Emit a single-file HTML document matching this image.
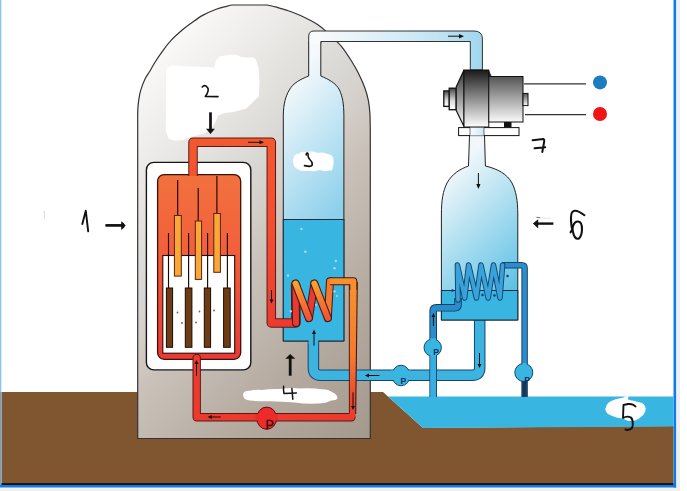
<!DOCTYPE html>
<html><head><meta charset="utf-8"><title>PWR diagram</title>
<style>
html,body{margin:0;padding:0;background:#fff;width:687px;height:491px;overflow:hidden;font-family:"Liberation Sans",sans-serif;}
svg{display:block;position:absolute;left:0;top:0;}
</style></head><body>
<svg width="687" height="491" viewBox="0 0 687 491">
<defs>
  <linearGradient id="gCont" gradientUnits="userSpaceOnUse" x1="104.5" y1="110.5" x2="416.5" y2="397.5">
    <stop offset="0" stop-color="#faf9f8"/>
    <stop offset="0.12" stop-color="#efeeec"/>
    <stop offset="0.36" stop-color="#d8d6d2"/>
    <stop offset="0.42" stop-color="#d5cfca"/>
    <stop offset="0.51" stop-color="#cac2ba"/>
    <stop offset="0.73" stop-color="#b5aba1"/>
    <stop offset="0.965" stop-color="#a59a8e"/>
    <stop offset="1" stop-color="#a3978b"/>
  </linearGradient>
  <linearGradient id="gBottle" gradientUnits="userSpaceOnUse" x1="273.5" y1="98.8" x2="365" y2="182.5">
    <stop offset="0" stop-color="#f5f9fc"/>
    <stop offset="1" stop-color="#8cd0eb"/>
  </linearGradient>
  <linearGradient id="gSteam" gradientUnits="userSpaceOnUse" x1="318" y1="0" x2="482" y2="0">
    <stop offset="0" stop-color="#f8fafb"/>
    <stop offset="0.49" stop-color="#d5ecf7"/>
    <stop offset="0.76" stop-color="#bee2f2"/>
    <stop offset="1" stop-color="#9fd7ee"/>
  </linearGradient>
  <linearGradient id="gCore" gradientUnits="userSpaceOnUse" x1="0" y1="175" x2="0" y2="360">
    <stop offset="0" stop-color="#f2713e"/>
    <stop offset="0.4" stop-color="#f2603b"/>
    <stop offset="1" stop-color="#ea3836"/>
  </linearGradient>
  <linearGradient id="gDark" x1="0" y1="0" x2="0" y2="1">
    <stop offset="0" stop-color="#1a1a1a"/>
    <stop offset="1" stop-color="#ffffff"/>
  </linearGradient>
  <linearGradient id="gGen" x1="0" y1="0" x2="0" y2="1">
    <stop offset="0" stop-color="#555"/>
    <stop offset="1" stop-color="#fafafa"/>
  </linearGradient>
  <linearGradient id="gCone" x1="0" y1="0" x2="0" y2="1">
    <stop offset="0" stop-color="#333"/>
    <stop offset="1" stop-color="#fff"/>
  </linearGradient>
  <linearGradient id="gCap" x1="0" y1="0" x2="0" y2="1">
    <stop offset="0" stop-color="#444"/>
    <stop offset="0.6" stop-color="#ddd"/>
    <stop offset="1" stop-color="#fff"/>
  </linearGradient>
  <linearGradient id="gCond" gradientUnits="userSpaceOnUse" x1="431.6" y1="191.1" x2="519.4" y2="281.7">
    <stop offset="0" stop-color="#f0f7fa"/>
    <stop offset="1" stop-color="#5fc2e5"/>
  </linearGradient>
  <linearGradient id="gHot" gradientUnits="userSpaceOnUse" x1="0" y1="140" x2="0" y2="325">
    <stop offset="0" stop-color="#f4582f"/>
    <stop offset="0.6" stop-color="#f24a32"/>
    <stop offset="1" stop-color="#ec3a30"/>
  </linearGradient>
  <linearGradient id="gWarm" gradientUnits="userSpaceOnUse" x1="0" y1="280" x2="0" y2="420">
    <stop offset="0" stop-color="#f7902c"/>
    <stop offset="0.6" stop-color="#f2702c"/>
    <stop offset="1" stop-color="#ec3a2e"/>
  </linearGradient>
  <linearGradient id="gCoilF" x1="0" y1="0" x2="0" y2="1">
    <stop offset="0" stop-color="#f8a030"/>
    <stop offset="1" stop-color="#ef5535"/>
  </linearGradient>
  <linearGradient id="gSteamV" x1="0" y1="0" x2="1" y2="0">
    <stop offset="0" stop-color="#fafdff"/>
    <stop offset="1" stop-color="#cfe8f6"/>
  </linearGradient>
  <linearGradient id="gWarmV" x1="0" y1="0" x2="0" y2="1">
    <stop offset="0" stop-color="#f7902c"/>
    <stop offset="0.55" stop-color="#f37a2c"/>
    <stop offset="0.85" stop-color="#ee4a2e"/>
    <stop offset="1" stop-color="#ec3a2e"/>
  </linearGradient>
  <linearGradient id="gWarmV2" gradientUnits="userSpaceOnUse" x1="0" y1="282" x2="0" y2="417">
    <stop offset="0" stop-color="#f7922e"/>
    <stop offset="0.55" stop-color="#f47a2c"/>
    <stop offset="0.85" stop-color="#ee4a2e"/>
    <stop offset="1" stop-color="#ec3a2e"/>
  </linearGradient>
</defs>

<!-- frame borders -->

<rect x="676" y="0" width="4" height="491" fill="#efefef"/>
<rect x="0" y="487.5" width="680" height="3.5" fill="#f0f0f0"/>
<rect x="0" y="487.5" width="676" height="1.2" fill="#f7f5f3"/>
<rect x="673.5" y="0" width="2.6" height="487.5" fill="#0b7cef"/>
<rect x="0" y="484.9" width="676.1" height="2.6" fill="#0b7cef"/>

<!-- ground -->
<polygon points="1.5,392 383,392 423,428 673.5,426 673.5,484.6 1.5,484.6" fill="#7f562f"/>
<rect x="1.2" y="483.3" width="672.3" height="1.6" fill="#000"/>
<rect x="0" y="0" width="1.3" height="392" fill="#8cc2ef"/>
<rect x="0" y="392" width="1.3" height="93" fill="#739fc4"/>
<!-- sea -->
<polygon points="388,396.5 673.5,396.5 673.5,426.5 423,428" fill="#38b5e1"/>

<!-- containment -->
<path d="M137.7,438.5 L137.7,125 C137.7,122.5 137.6,114.1 137.8,110.0 C138.0,105.9 138.2,103.6 138.7,100.4 C139.2,97.2 139.5,94.2 140.6,90.6 C141.7,87.0 143.5,82.2 145.0,79.0 C146.5,75.8 148.2,74.0 149.8,71.3 C151.4,68.6 152.7,66.0 154.7,62.8 C156.7,59.5 159.3,55.5 162.0,51.8 C164.7,48.1 167.1,44.5 170.6,40.8 C174.1,37.1 179.4,32.4 182.8,29.5 C186.2,26.6 187.6,25.6 191.0,23.2 C194.4,20.8 198.9,17.4 203.1,15.1 C207.3,12.8 212.3,10.7 216.2,9.2 C220.1,7.7 224.1,7.0 226.7,6.3 C229.3,5.6 231.0,5.2 231.9,5.0 L267.3,5 C268.9,5.4 273.1,6.2 276.6,7.2 C280.1,8.2 284.4,9.4 288.3,10.7 C292.2,12.0 296.0,13.5 299.9,15.2 C303.8,16.9 308.5,19.3 311.6,21.0 C314.7,22.7 316.5,23.8 318.6,25.3 C320.7,26.8 322.0,27.8 324.4,29.9 C326.8,32.0 330.1,35.0 333.0,37.8 C335.9,40.6 338.8,43.1 341.8,46.8 C344.8,50.5 348.2,55.8 351.0,60.2 C353.8,64.6 356.0,68.4 358.3,73.0 C360.6,77.6 363.1,83.1 364.8,87.7 C366.5,92.3 367.5,96.3 368.4,100.6 C369.2,104.9 369.6,108.5 369.9,113.4 C370.2,118.3 370.2,127.2 370.3,130.0 L370.3,438.5 Z" fill="url(#gCont)" stroke="#333" stroke-width="1.2" stroke-linejoin="round"/>

<!-- white scribble blob behind label 2 -->
<path d="M166,72 Q166.5,66 172,65.5 L190,66.5 L205,67 L214.5,67.5 L216,60 L219,56.5 L226,55.5 L231,54.5 L237,55 L241,57 L247,57.5 L253,57.5 L256,59.5 L258.5,68 L259.5,80 L259,96 L252,103 L246,108.7 L233,112 L225,113 L218,115.5 L215,123 L210,130.5 L203.5,133.6 L190.6,137 L183,140 L175,140.8 L169,139 L165.8,131 Z" fill="#fff"/>

<!-- reactor outer white frame -->
<rect x="146.4" y="162.4" width="104.4" height="207.5" rx="7.5" fill="#fff" stroke="#151515" stroke-width="1.4"/>
<!-- core -->
<rect x="157.6" y="174.6" width="83.1" height="184.7" rx="6.5" fill="url(#gCore)" stroke="#3a1208" stroke-width="1.3"/>
<rect x="162.8" y="255.5" width="71.9" height="97.7" fill="#fff" stroke="#2a0a05" stroke-width="1.1"/>



<!-- feedwater pipe (SG outlet -> condenser) -->
<path d="M313.4,341 L313.4,368 Q313.4,375.2 320.6,375.2 L472.5,375.2 Q479.7,375.2 479.7,368 L479.7,319" fill="none" stroke="#16466e" stroke-width="11.5"/>
<path d="M313.4,340 L313.4,368 Q313.4,375.2 320.6,375.2 L472.5,375.2 Q479.7,375.2 479.7,368 L479.7,318" fill="none" stroke="#3cb4df" stroke-width="9.5"/>
<!-- cold leg loop -->
<path d="M351.4,417.2 L196.7,417.2 L196.7,358" fill="none" stroke="#5a1a12" stroke-width="8.4" stroke-linejoin="round" stroke-linecap="round"/>

<path d="M351.4,417.2 L196.7,417.2 L196.7,358" fill="none" stroke="#ec3a2e" stroke-width="6.4" stroke-linejoin="round" stroke-linecap="round"/>
<path d="M349.3,282 L357.3,282 L355.6,417 L349.4,417 Z" fill="url(#gWarmV2)"/>
<path d="M349.3,282 L349.4,413.2" stroke="#5a1a12" stroke-width="1" fill="none"/>
<path d="M357.3,282 L355.7,414" stroke="#4a1510" stroke-width="1.1" fill="none"/>

<!-- control rods -->
<g stroke="#1e0604" stroke-width="1.15">
  <line x1="177.7" y1="180" x2="177.7" y2="216"/>
  <line x1="198.2" y1="188" x2="198.2" y2="221"/>
  <line x1="216.9" y1="176" x2="216.9" y2="214"/>
  <line x1="168.5" y1="233" x2="168.5" y2="288"/>
  <line x1="188.6" y1="233" x2="188.6" y2="288"/>
  <line x1="207.6" y1="233" x2="207.6" y2="288"/>
  <line x1="227.4" y1="233" x2="227.4" y2="288"/>
</g>
<g fill="#f9a838" stroke="#5a2010" stroke-width="1">
  <rect x="174.4" y="215.5" width="6.9" height="60.6"/>
  <rect x="195.3" y="221" width="6.3" height="58.4"/>
  <rect x="213.8" y="213.5" width="6.6" height="58.8"/>
</g>
<!-- fuel rods -->
<g fill="#6e3c14" stroke="#1a0a04" stroke-width="1">
  <rect x="166.4" y="288" width="6.2" height="59.3"/>
  <rect x="185.3" y="288" width="6.6" height="59.3"/>
  <rect x="204.3" y="288" width="6.3" height="59.3"/>
  <rect x="223.6" y="288" width="6.6" height="59.3"/>
</g>
<g fill="#666">
  <circle cx="177.5" cy="312.5" r="0.9"/><circle cx="182" cy="323" r="0.9"/>
  <circle cx="199.5" cy="311.5" r="0.9"/><circle cx="196" cy="322.5" r="0.9"/>
  <circle cx="214" cy="310.5" r="0.9"/>
</g>

<!-- steam generator bottle -->
<path d="M308.7,42 L308.7,76 C301,79 293,83 289.3,90 C285.5,96.5 283.5,104 283.3,115 L283.3,341 L343.9,341 L343.9,115 C343.8,104 342.5,96.5 339.5,90 C336,83 328,79 320.8,76 L320.8,42 Z" fill="url(#gBottle)" stroke="#222" stroke-width="1"/>
<rect x="283.3" y="219.5" width="60.6" height="121.5" fill="#38b5e1" stroke="#1b2a3a" stroke-width="1"/>
<rect x="308.6" y="339" width="9.6" height="4.5" fill="#3cb4df"/>
<!-- hot leg loop -->
<path d="M193,176 L193,142.3 L271.3,142.3 L271.3,323 L296,323 L295.6,284" fill="none" stroke="#5a1a12" stroke-width="9.5" stroke-linejoin="round"/>
<path d="M193,176 L193,142.3 L271.3,142.3 L271.3,323 L296,323 L295.6,284" fill="none" stroke="url(#gHot)" stroke-width="7.5" stroke-linejoin="round"/>

<!-- SG coil -->
<g fill="none" stroke-linecap="round" stroke-linejoin="round">
  <g stroke="#4a1510" stroke-width="8">
    <path d="M296,323 L295.5,284"/><path d="M309,318 L314.3,284"/><path d="M327.8,318 L330,281.3"/>
  </g>
  <g stroke="#e43c32" stroke-width="6">
    <path d="M296,323 L295.5,284"/><path d="M309,318 L314.3,284"/>
  </g>
  <path d="M327.8,318 L330,281.3" stroke="#f07a30" stroke-width="6"/>
  <path d="M330,281.3 L353.3,281.3 L353.3,290" stroke="#4a1510" stroke-width="8" stroke-linecap="butt"/>
  <path d="M330,281.3 L353.3,281.3 L353.3,291" stroke="#f7902c" stroke-width="6" stroke-linecap="butt"/>
  <g stroke="#4a1510" stroke-width="8">
    <path d="M295.6,283.5 L308.8,318"/><path d="M314.3,283.5 L327.8,318"/>
  </g>
  <g stroke="url(#gCoilF)" stroke-width="6">
    <path d="M295.6,283.5 L308.8,318"/><path d="M314.3,283.5 L327.8,318"/>
  </g>
</g>
<!-- bubbles -->
<g fill="#9edcf7">
  <circle cx="301.4" cy="229" r="1.2"/><circle cx="305.3" cy="251.7" r="1.3"/><circle cx="335.8" cy="261" r="1.2"/>
  <circle cx="334.5" cy="268.3" r="1.2"/><circle cx="288" cy="275.5" r="1.2"/><circle cx="290.8" cy="311.3" r="1.2"/>
  <circle cx="334.5" cy="291.4" r="1.2"/><circle cx="337" cy="296" r="1"/><circle cx="316" cy="305" r="1"/>
</g>


<!-- steam pipe -->
<path d="M308.7,44 L308.7,36 Q308.7,31 314,31 L474,31 Q482.4,31 482.4,39 L482.4,70 L470.3,70 L470.3,41.5 L320.8,41.5 L320.8,44" fill="url(#gSteam)" stroke="#333" stroke-width="1"/>
<line x1="448" y1="36.2" x2="462" y2="36.2" stroke="#111" stroke-width="1"/>
<path d="M464,36.2 L459,34 L459,38.4 Z" fill="#111"/>


<!-- condenser -->
<path d="M469.5,135.5 L468.5,166 C460,169 452,174 447,183 C443,191 441.4,200 441.4,215 L441.4,320 L517.8,320 L517.8,215 C517.8,200 516,191 512,183 C507,174 498,169 485.4,166 L484.5,135.5 Z" fill="url(#gCond)" stroke="#222" stroke-width="1"/>
<rect x="441.4" y="290.5" width="76.4" height="29.5" fill="#38b5e1" stroke="#1b2a3a" stroke-width="1"/>
<line x1="478.4" y1="173" x2="478.4" y2="187" stroke="#111" stroke-width="1"/>
<path d="M478.4,189 L476.3,184 L480.5,184 Z" fill="#111"/>

<!-- cooling water intake -->
<g fill="none" stroke-linejoin="round">
  <path d="M433.2,397 L433.2,311 Q433.2,307.8 436.4,307.8 L454.8,307.8 Q458,307.8 458,304.6 L458,298" stroke="#0f3c66" stroke-width="7.6"/>
  <path d="M433.2,397 L433.2,311 Q433.2,307.8 436.4,307.8 L454.8,307.8 Q458,307.8 458,304.6 L458,298" stroke="#2a8cc8" stroke-width="5.8"/>
  <path d="M433.2,397 L433.2,350" stroke="#38aee0" stroke-width="5.8"/>
  <path d="M502,265.3 L521.6,265.3 Q524.6,265.3 524.6,268.3 L524.6,397" stroke="#16466e" stroke-width="6.5"/>
  <path d="M502,265.3 L521.6,265.3 Q524.6,265.3 524.6,268.3 L524.6,397" stroke="#2d8ccb" stroke-width="4.5"/>
  <!-- coil -->
  <path d="M458,300 L457.4,265 L464.7,298 L468.6,265 L476.4,298 L481,265 L488.2,298 L493.5,265 L500,298 L502.6,265" stroke="#16466e" stroke-width="5.5" stroke-linecap="round"/>
  <path d="M458,300 L457.4,265 L464.7,298 L468.6,265 L476.4,298 L481,265 L488.2,298 L493.5,265 L500,298 L502.6,265" stroke="#38a3da" stroke-width="3.6" stroke-linecap="round"/>
</g>
<g fill="#1a2f80"><circle cx="452.5" cy="290.5" r="1.2"/><circle cx="482.5" cy="295" r="1.2"/><circle cx="494.5" cy="295.5" r="1.2"/><circle cx="507.5" cy="276" r="1.2"/></g>

<!-- pumps -->
<g stroke="#16466e" stroke-width="1" fill="#38b5e1">
  <circle cx="432.7" cy="347.6" r="8.7"/>
  <ellipse cx="401" cy="375.5" rx="9" ry="10.3"/>
  <circle cx="523.8" cy="372.5" r="9"/>
</g>
<rect x="430.3" y="338.2" width="5.8" height="18.8" fill="#38b5e1"/>
<rect x="391" y="370.5" width="20" height="9.5" fill="#38b5e1"/>
<rect x="522.4" y="363" width="4.2" height="17" fill="#38b5e1"/>
<rect x="522.2" y="381.2" width="4.6" height="15.6" fill="#1b3558"/>
<g font-family="Liberation Sans" font-weight="bold" font-size="8.6" fill="#0f2f5a">
  <text x="433.3" y="355.4">P</text>
  <text x="400.6" y="383.6">P</text>
  <text x="524.2" y="383">P</text>
</g>
<!-- red pump -->
<ellipse cx="266.7" cy="418.2" rx="10" ry="11.1" fill="#ee2b2b" stroke="#5a1212" stroke-width="1"/>
<rect x="255.5" y="414.1" width="22.4" height="6.3" fill="#ee2b2b"/>
<text x="265.4" y="428.8" font-family="Liberation Sans" font-size="12.5" fill="#2a0505" stroke="#2a0505" stroke-width="0.3">P</text>

<!-- turbine -->
<rect x="443.8" y="90.9" width="5.6" height="15.5" fill="url(#gCap)" stroke="#111" stroke-width="1.3"/>
<rect x="449.2" y="88.2" width="7" height="21.5" fill="url(#gCap)" stroke="#111" stroke-width="1.3"/>
<path d="M456.2,86.9 L464,70 L464,126.5 L456.2,110.4 Z" fill="url(#gCone)" stroke="#111" stroke-width="1.2"/>
<rect x="464" y="70" width="24.8" height="57" fill="url(#gDark)" stroke="#111" stroke-width="1"/>
<rect x="488.8" y="76.5" width="34.2" height="45.5" fill="url(#gGen)" stroke="#111" stroke-width="1"/>
<path d="M488.5,70.2 L491.2,76.5 L488.5,76.5 Z" fill="#222" stroke="#111" stroke-width="0.8"/>
<rect x="523" y="93.4" width="5" height="12.2" fill="url(#gGen)" stroke="#111" stroke-width="1"/>
<rect x="504" y="122" width="7.5" height="5.5" fill="#111"/>
<rect x="458.6" y="127.6" width="60.4" height="8" fill="#fff" stroke="#111" stroke-width="1"/>
<rect x="470" y="127.6" width="14" height="8" fill="url(#gSteamV)"/>
<line x1="470" y1="127.6" x2="470" y2="135.6" stroke="#111" stroke-width="0.6"/>
<line x1="484" y1="127.6" x2="484" y2="135.6" stroke="#111" stroke-width="0.6"/>
<!-- wires -->
<line x1="524" y1="83.8" x2="586" y2="83.8" stroke="#333" stroke-width="1.2"/>
<line x1="525" y1="114.6" x2="586" y2="114.6" stroke="#333" stroke-width="1.2"/>
<circle cx="600" cy="82.4" r="7" fill="#1b7cc2"/>
<circle cx="600" cy="114" r="7" fill="#f01414"/>

<!-- 3 blob -->
<path d="M293,160 Q293.5,154 299,153.5 Q301,151 306,152 Q312,150.8 318,153 Q323,151.5 328,154 Q333.5,155 333.5,160 Q334,165 332.5,168 Q333,171 329,170.5 Q325,172 320,170 Q314,172 308,170.5 Q302,172 298,169.5 Q292.5,167 293,160 Z" fill="#fff"/>
<!-- 4 blob -->
<path d="M243,394.5 Q243.5,390.5 250,390.8 Q256,389.2 262,390 Q270,388.6 280,389 Q290,387.6 300,388.4 Q312,387.8 322,389.2 Q329,389.5 332,392 Q337.5,394.5 337.5,398.2 Q336,400.6 331,400.4 Q326,403.2 318,403.6 Q305,404.2 295,402.4 Q282,401.6 270,401.2 Q258,401.6 250,400.6 Q243,400 243,394.5 Z" fill="#fff"/>
<!-- 5 blob -->
<path d="M605.7,407.8 C606.2,406.5 606.8,404.2 608.5,402.8 C610.2,401.4 613.3,400.1 615.7,399.3 C618.1,398.5 621.2,398.3 622.8,397.8 C624.3,397.3 624.0,396.6 625.0,396.4 C626.0,396.2 628.0,396.1 628.5,396.6 C629.0,397.1 627.1,398.8 628.3,399.6 C629.5,400.4 633.2,400.6 635.6,401.2 C638.0,401.8 641.1,402.3 642.8,403.5 C644.5,404.7 645.4,406.8 645.6,408.5 C645.8,410.2 645.1,411.9 644.2,413.5 C643.3,415.1 641.7,416.6 640.0,417.8 C638.3,419.0 636.1,420.2 634.2,420.7 C632.3,421.2 630.4,421.2 628.5,420.9 C626.6,420.6 624.9,419.3 622.8,418.7 C620.7,418.1 618.1,417.9 615.7,417.2 C613.3,416.4 610.2,415.3 608.5,414.2 C606.8,413.1 606.2,411.8 605.7,410.7 C605.2,409.6 605.2,409.1 605.7,407.8 Z" fill="#fff"/>

<!-- arrows -->
<g stroke="#111" fill="none" stroke-linecap="butt">
  <line x1="105.4" y1="225.4" x2="122.5" y2="225.4" stroke-width="2.7"/>
  <line x1="210.5" y1="112.3" x2="210.5" y2="130" stroke-width="2.7"/>
  <line x1="290.2" y1="357.5" x2="290.2" y2="375.7" stroke-width="2.8"/>
  <line x1="537" y1="223.6" x2="553.4" y2="223.6" stroke-width="2.4"/>
  <line x1="314" y1="333" x2="314" y2="345.7" stroke-width="1"/>
  <line x1="248" y1="142.3" x2="261" y2="142.3" stroke-width="1"/>
  <line x1="271.5" y1="290" x2="271.5" y2="301" stroke-width="1"/>
  <line x1="196.5" y1="363" x2="196.5" y2="376" stroke-width="1"/>
  <line x1="210.5" y1="417" x2="220.8" y2="417" stroke-width="1"/>
  <line x1="353" y1="392.4" x2="353" y2="407" stroke-width="1"/>
  <line x1="368" y1="375.5" x2="379.4" y2="375.5" stroke-width="1"/>
  <line x1="479.5" y1="353" x2="479.5" y2="365" stroke-width="1"/>
  <line x1="433.4" y1="316" x2="433.4" y2="326" stroke-width="1"/>
</g>
<g fill="#111">
  <path d="M121.2,221.3 Q124.5,223.3 125.6,225.5 Q124.5,227.7 121.2,229.9 Z"/>
  <path d="M206,128.8 L214.9,128.8 L210.5,133.9 Z"/>
  <path d="M290.2,354 L285.3,358.8 L295.2,358.8 Z"/>
  <path d="M532.9,223.6 L538.2,219.3 L538.2,228.4 Z"/>
  <path d="M314,329.5 L312,334 L316,334 Z"/>
  <path d="M264,142.3 L259.5,140.3 L259.5,144.3 Z"/>
  <path d="M271.5,303.6 L269.5,299.6 L273.5,299.6 Z"/>
  <path d="M196.5,360 L194.5,364 L198.5,364 Z"/>
  <path d="M207.7,417 L211.7,415 L211.7,419 Z"/>
  <path d="M353,410 L351,406 L355,406 Z"/>
  <path d="M364.9,375.5 L369,373.5 L369,377.5 Z"/>
  <path d="M479.5,368 L477.5,364 L481.5,364 Z"/>
  <path d="M433.4,313 L431.6,317 L435.2,317 Z"/>
</g>
<line x1="44.4" y1="211" x2="44.4" y2="219" stroke="#d8d8d8" stroke-width="1"/>
<line x1="536.4" y1="217.3" x2="540.2" y2="217.7" stroke="#666" stroke-width="0.9"/>
<line x1="540.2" y1="218" x2="550.7" y2="218.3" stroke="#ddd" stroke-width="0.8"/>

<!-- labels -->
<g fill="none" stroke="#111" stroke-linecap="round" stroke-linejoin="round">
  <!-- 1 -->
  <path d="M82.3,224 L85.8,210.8 L88.2,231.3" stroke-width="1.9"/>
  <!-- 2 -->
  <path d="M202.3,87 Q204,84.8 206.2,86.2 Q208.6,88 208.2,90.5 Q207.8,93.5 205.3,96.4 L218,96.6" stroke-width="1.6"/>
  <!-- 7 -->
  <path d="M532.6,140.2 L543.4,139 Q544.6,139.5 544.2,141.5 L542.3,152 M534.6,148.3 L545.2,147.3" stroke-width="2"/>
  <!-- 6 -->
  <path d="M584.4,215.2 C581,212.5 577,210.5 574.6,210.7 C572,211 571,213.5 571,217.5 C571,222 571.5,227 572.2,229.5 L570.6,232.3 M573,226.2 C574,223 576,221.5 578,221.5 C581,221.5 582,225 582,229.4 C582,234 580,238.8 577.9,238.8 C575.5,238.8 573.5,235 572.8,231 C572.4,229 572.5,227.5 573,226.2" stroke-width="2.1"/>
  <!-- 3 -->
  <path d="M306.3,155 Q306,152.8 307.5,153 Q308.4,153.5 308.1,155.8 Q308,157.5 309.8,159.5 Q312.5,162 312.3,164.3 Q312,166.4 309,166.4 L304.5,165.6" stroke-width="1.6"/>
  <!-- 4 -->
  <path d="M283.6,386.3 Q283.2,390 284,393.6 L296.4,392.9 M291.9,388.5 L292.8,399.3" stroke-width="1.5"/>
  <!-- 5 -->
  <path d="M635.5,406.5 Q633,403.5 628,404 L623.5,405 L623,418 Q627,415.5 631,417.5 Q633.2,420 632.8,425 Q632.5,430 627,430 L625.5,429.5" stroke-width="1.9"/>
</g>
<!-- label blobs -->

</svg>
</body></html>
